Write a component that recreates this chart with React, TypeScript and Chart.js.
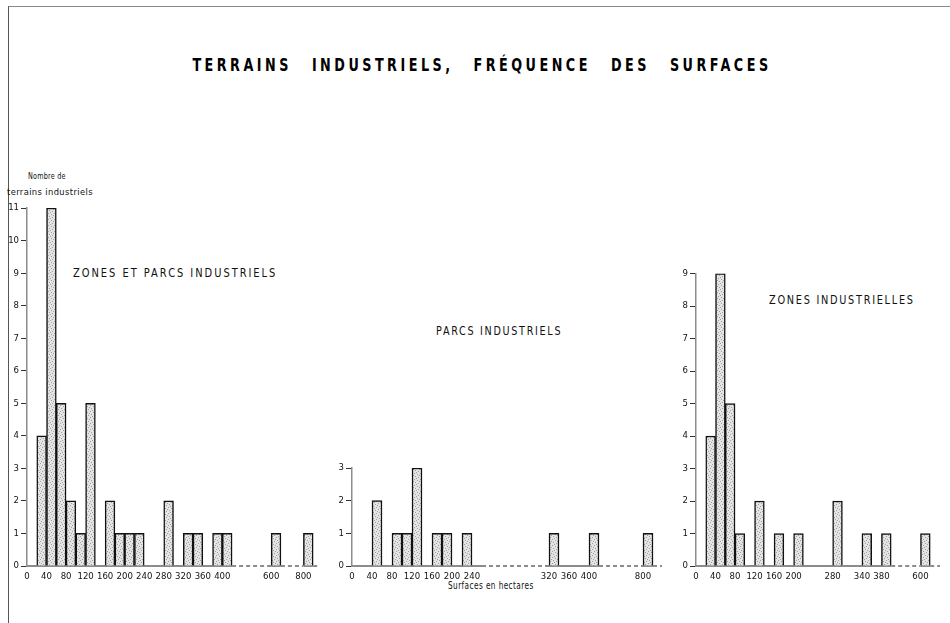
import React, { useEffect, useRef } from "react";
import { Chart, registerables } from "chart.js";

Chart.register(...registerables);

// ---- DATA ----
// Lower bound (ha) of each 20-ha surface class, and number of industrial sites in it
const allClasses = [20, 40, 60, 80, 100, 120, 160, 180, 200, 220, 280, 320, 340, 380, 400, 600, 800];
const allCounts = [4, 11, 5, 2, 1, 5, 2, 1, 1, 1, 2, 1, 1, 1, 1, 1, 1];

const parcsClasses = [40, 80, 100, 120, 160, 180, 220, 320, 400, 800];
const parcsCounts = [2, 1, 1, 3, 1, 1, 1, 1, 1, 1];

const zonesClasses = [20, 40, 60, 80, 120, 160, 200, 280, 340, 380, 600];
const zonesCounts = [4, 9, 5, 1, 2, 1, 1, 2, 1, 1, 1];

// Tick labels (ha) on each x axis
const allTicks = [0, 40, 80, 120, 160, 200, 240, 280, 320, 360, 400, 600, 800];
const parcsTicks = [0, 40, 80, 120, 160, 200, 240, 320, 360, 400, 800];
const zonesTicks = [0, 40, 80, 120, 160, 200, 280, 340, 380, 600];

const CLASS_WIDTH = 20; // ha per bar

const TITLE = "TERRAINS INDUSTRIELS, FRÉQUENCE DES SURFACES";
const Y_TITLE_1 = "Nombre de";
const Y_TITLE_2 = "terrains industriels";
const X_TITLE = "Surfaces en hectares";
const PANEL_TITLES = ["ZONES ET PARCS INDUSTRIELS", "PARCS INDUSTRIELS", "ZONES INDUSTRIELLES"];

// ---- LAYOUT ----
type Panel = {
  classes: number[];
  counts: number[];
  ticks: number[];
  yMax: number;
  // broken axis: [ha, axis position]; after each anchor 1 unit = 20 ha
  anchors: [number, number][];
  // stretches of the base line (ha) drawn dashed, marking the axis breaks
  dashed: [number, number][];
  box: { left: number; top: number; width: number; height: number };
  yWidth: number;
  padTop: number;
  padRight: number;
  xHeight: number;
  xMax: number;
  yDash: number[];
};

const panels: Panel[] = [
  {
    classes: allClasses, counts: allCounts, ticks: allTicks, yMax: 11,
    anchors: [[0, 0], [600, 25], [800, 28.3]],
    dashed: [[420, 600], [620, 800], [820, 1e9]],
    box: { left: 0, top: 195, width: 330, height: 410 },
    yWidth: 27, padTop: 13, padRight: 10, xHeight: 39, xMax: 30, yDash: [],
  },
  {
    classes: parcsClasses, counts: parcsCounts, ticks: parcsTicks, yMax: 3,
    anchors: [[0, 0], [320, 19.7], [800, 29.1]],
    dashed: [[260, 320], [420, 800], [820, 1e9]],
    box: { left: 330, top: 455, width: 340, height: 150 },
    yWidth: 22, padTop: 13, padRight: 8, xHeight: 39, xMax: 31, yDash: [1, 3],
  },
  {
    classes: zonesClasses, counts: zonesCounts, ticks: zonesTicks, yMax: 9,
    anchors: [[0, 0], [600, 23]],
    dashed: [[400, 600], [620, 1e9]],
    box: { left: 670, top: 260, width: 280, height: 345 },
    yWidth: 26, padTop: 13.5, padRight: 10, xHeight: 39, xMax: 25, yDash: [1, 3],
  },
];

function makePos(anchors: [number, number][]) {
  return (ha: number) => {
    let a = anchors[0];
    for (const an of anchors) if (an[0] <= ha) a = an;
    return a[1] + (ha - a[0]) / CLASS_WIDTH;
  };
}

function stipple(): CanvasPattern | string {
  const c = document.createElement("canvas");
  c.width = 6;
  c.height = 6;
  const g = c.getContext("2d");
  if (!g) return "#d6d6d6";
  g.fillStyle = "#e4e4e4";
  g.fillRect(0, 0, 6, 6);
  g.fillStyle = "#a0a0a0";
  const dots = [[0, 0], [3, 1], [1, 3], [4, 4], [5, 2], [2, 5]];
  dots.forEach(([x, y]) => g.fillRect(x, y, 1, 1));
  return g.createPattern(c, "repeat") || "#d6d6d6";
}

const TICK_FONT = { family: "'DejaVu Sans Condensed', 'DejaVu Sans', sans-serif", size: 9.5 };

function PanelChart({ p }: { p: Panel }) {
  const ref = useRef<HTMLCanvasElement | null>(null);
  useEffect(() => {
    if (!ref.current) return;
    const pos = makePos(p.anchors);
    const fill = stipple();
    const data = p.classes.map((c, i) => ({
      x: (pos(c) + pos(c + CLASS_WIDTH)) / 2,
      y: p.counts[i],
    }));

    // base line: solid, with dashed stretches at the axis breaks
    const baseLine = {
      id: "baseLine",
      beforeDatasetsDraw(chart: any) {
        const { ctx, chartArea } = chart;
        const xs = chart.scales.x;
        const y = chartArea.bottom;
        const px = (ha: number) => Math.min(chartArea.right, xs.getPixelForValue(pos(Math.min(ha, 1e6))));
        const segs: { a: number; b: number; dash: boolean }[] = [];
        let cur = chartArea.left;
        p.dashed.forEach(([h0, h1]) => {
          const a = px(h0);
          const b = h1 >= 1e9 ? chartArea.right : px(h1);
          if (a > cur) segs.push({ a: cur, b: a, dash: false });
          segs.push({ a, b, dash: true });
          cur = b;
        });
        if (cur < chartArea.right) segs.push({ a: cur, b: chartArea.right, dash: false });
        ctx.save();
        ctx.strokeStyle = "#8c8c8c";
        ctx.lineWidth = 2;
        segs.forEach((s) => {
          ctx.setLineDash(s.dash ? [4, 3] : []);
          ctx.beginPath();
          ctx.moveTo(s.a, y);
          ctx.lineTo(s.b, y);
          ctx.stroke();
        });
        ctx.restore();
      },
    };

    const chart = new Chart(ref.current, {
      type: "bar",
      data: {
        datasets: [
          {
            data,
            backgroundColor: fill as any,
            borderColor: "#111",
            borderWidth: 1.5,
            borderSkipped: "start",
            barPercentage: 1,
            categoryPercentage: 1,
          },
        ],
      },
      plugins: [baseLine],
      options: {
        animation: false,
        responsive: true,
        maintainAspectRatio: false,
        layout: { padding: { left: 0, top: p.padTop, right: p.padRight, bottom: 0 } },
        plugins: { legend: { display: false }, tooltip: { enabled: false }, title: { display: false } },
        scales: {
          x: {
            type: "linear",
            min: 0,
            max: p.xMax,
            offset: false,
            grid: { display: false, drawTicks: false },
            border: { display: false },
            ticks: {
              autoSkip: false,
              maxRotation: 0,
              padding: 5,
              color: "#111",
              font: TICK_FONT,
              callback: (_v: any, i: number) => String(p.ticks[i]),
            },
            afterBuildTicks: (s: any) => {
              s.ticks = p.ticks.map((h) => ({ value: pos(h) }));
            },
            afterFit: (s: any) => {
              s.height = p.xHeight;
            },
          },
          y: {
            type: "linear",
            min: 0,
            max: p.yMax,
            grid: { drawOnChartArea: false, drawTicks: true, tickLength: 6, color: "#333", lineWidth: 1 },
            border: { display: true, color: "#8c8c8c", width: 1.5, dash: p.yDash },
            ticks: { stepSize: 1, padding: 2, color: "#111", font: TICK_FONT },
            afterFit: (s: any) => {
              s.width = p.yWidth;
            },
          },
        },
      },
    });
    return () => chart.destroy();
  }, [p]);
  return (
    <div
      style={{
        position: "absolute",
        left: p.box.left,
        top: p.box.top,
        width: p.box.width,
        height: p.box.height,
      }}
    >
      <canvas ref={ref} />
    </div>
  );
}

const labelFont = "'DejaVu Sans', sans-serif";

function Label({
  text, left, top, size, spacing, scale,
}: {
  text: string; left: number; top: number; size: number; spacing: number; scale: number;
}) {
  return (
    <div
      style={{
        position: "absolute",
        left,
        top,
        whiteSpace: "pre",
        fontFamily: labelFont,
        fontSize: size,
        lineHeight: `${size}px`,
        letterSpacing: spacing,
        color: "#111",
        transform: `scaleX(${scale})`,
        transformOrigin: "left top",
      }}
    >
      {text}
    </div>
  );
}

export default function App() {
  return (
    <div
      style={{
        position: "absolute",
        left: 0,
        top: 0,
        width: 950,
        height: 623,
        background: "#fff",
        overflow: "hidden",
      }}
    >
      <div
        style={{
          position: "absolute",
          left: 8,
          top: 6,
          width: 942,
          height: 617,
          borderTop: "1.5px solid #8a8a8a",
          borderLeft: "1.5px solid #555",
        }}
      />
      <div
        style={{
          position: "absolute",
          left: 3,
          width: 958,
          top: 56,
          textAlign: "center",
          whiteSpace: "pre",
          fontFamily: labelFont,
          fontWeight: 700,
          fontSize: 18,
          lineHeight: "18px",
          letterSpacing: 4.9,
          wordSpacing: 17,
          color: "#000",
          transform: "scaleX(0.71)",
          transformOrigin: "center top",
        }}
      >
        {TITLE}
      </div>
      <Label text={Y_TITLE_1} left={28} top={171} size={9.5} spacing={0.3} scale={0.68} />
      <Label text={Y_TITLE_2} left={7} top={188} size={9} spacing={0.4} scale={0.93} />
      <Label text={PANEL_TITLES[0]} left={73} top={267} size={12.5} spacing={2.5} scale={0.79} />
      <Label text={PANEL_TITLES[1]} left={436} top={325} size={12.5} spacing={2.2} scale={0.77} />
      <Label text={PANEL_TITLES[2]} left={769} top={294} size={12.5} spacing={2.2} scale={0.78} />
      <Label text={X_TITLE} left={448} top={581} size={10} spacing={0.6} scale={0.73} />
      {panels.map((p, i) => (
        <PanelChart key={i} p={p} />
      ))}
    </div>
  );
}
